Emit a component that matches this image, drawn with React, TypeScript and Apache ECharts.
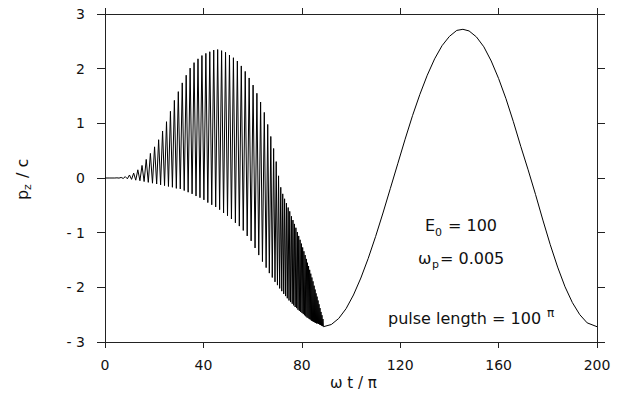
import React, { useEffect, useRef } from "react";
import * as echarts from "echarts";

// x tick labels (ωt/π) and y tick labels (p_z/c)
const xTicks = [0, 40, 80, 120, 160, 200];
const yTicks = [-3, -2, -1, 0, 1, 2, 3];

// flat start before the oscillations
const startT = [0, 2];
const startV = [0, 0];

// fast oscillation: spike tops
const peakT = [4.85, 6.55, 8.25, 9.95, 11.65, 13.35, 15.05, 16.75, 18.45, 20.15, 21.8, 23.4, 25.0, 26.6, 28.2, 29.8, 31.4, 33.0, 34.6, 36.2, 37.8, 39.4, 41.0, 42.6, 44.2, 45.8, 47.4, 49.0, 50.6, 52.2, 53.8, 55.4, 57.0, 58.6, 60.2, 61.75, 63.25, 64.75, 66.15, 67.4, 68.55, 69.6, 70.55, 71.45, 72.25, 73.0, 73.75, 74.45, 75.1, 75.8, 76.4, 77.0, 77.6, 78.2, 78.75, 79.3, 79.85, 80.35, 80.85, 81.35, 81.85, 82.3, 82.75, 83.2, 83.65, 84.1, 84.55, 85.0, 85.4, 85.8, 86.2, 86.6, 87.0, 87.4, 87.8, 88.2, 88.6];
const peakV = [0.003, 0.01, 0.025, 0.055, 0.09, 0.15, 0.23, 0.34, 0.45, 0.57, 0.7, 0.86, 1.03, 1.22, 1.42, 1.58, 1.74, 1.88, 2.01, 2.11, 2.18, 2.24, 2.28, 2.31, 2.34, 2.35, 2.33, 2.3, 2.25, 2.2, 2.14, 2.05, 1.95, 1.83, 1.7, 1.55, 1.39, 1.2, 0.98, 0.76, 0.54, 0.3, 0.04, -0.17, -0.29, -0.38, -0.46, -0.54, -0.61, -0.7, -0.77, -0.84, -0.91, -0.99, -1.06, -1.13, -1.2, -1.27, -1.34, -1.41, -1.48, -1.55, -1.61, -1.68, -1.75, -1.82, -1.89, -1.97, -2.04, -2.11, -2.17, -2.24, -2.31, -2.38, -2.45, -2.51, -2.58];

// fast oscillation: spike bottoms
const troughT = [4.0, 5.7, 7.4, 9.1, 10.8, 12.5, 14.2, 15.9, 17.6, 19.3, 21.0, 22.6, 24.2, 25.8, 27.4, 29.0, 30.6, 32.2, 33.8, 35.4, 37.0, 38.6, 40.2, 41.8, 43.4, 45.0, 46.6, 48.2, 49.8, 51.4, 53.0, 54.6, 56.2, 57.8, 59.4, 61.0, 62.5, 64.0, 65.5, 66.8, 68.0, 69.1, 70.1, 71.0, 71.85, 72.65, 73.4, 74.1, 74.8, 75.45, 76.1, 76.7, 77.3, 77.9, 78.45, 79.0, 79.55, 80.1, 80.6, 81.1, 81.6, 82.1, 82.55, 83.0, 83.45, 83.9, 84.35, 84.8, 85.2, 85.6, 86.0, 86.4, 86.8, 87.2, 87.6, 88.0, 88.4, 88.8];
const troughV = [0, -0.002, -0.008, -0.015, -0.025, -0.04, -0.05, -0.065, -0.08, -0.095, -0.11, -0.125, -0.14, -0.155, -0.17, -0.19, -0.2, -0.23, -0.26, -0.29, -0.33, -0.36, -0.4, -0.45, -0.49, -0.53, -0.58, -0.64, -0.69, -0.75, -0.82, -0.88, -0.96, -1.06, -1.15, -1.28, -1.41, -1.53, -1.64, -1.74, -1.82, -1.9, -1.96, -2.02, -2.07, -2.12, -2.16, -2.2, -2.24, -2.27, -2.3, -2.33, -2.36, -2.38, -2.41, -2.43, -2.45, -2.47, -2.49, -2.51, -2.53, -2.55, -2.56, -2.58, -2.59, -2.61, -2.62, -2.63, -2.64, -2.65, -2.66, -2.66, -2.67, -2.68, -2.69, -2.7, -2.71, -2.72];

// slow part after the pulse
const slowT = [89, 92, 95, 98, 101, 104, 107, 110, 113, 116, 119, 122, 125, 128, 131, 134, 137, 140, 143, 145.5, 148, 151, 154, 157, 160, 163, 166, 169, 172, 175, 178, 181, 184, 187, 190, 193, 196, 200];
const slowV = [-2.72, -2.68, -2.57, -2.39, -2.14, -1.83, -1.47, -1.07, -0.64, -0.19, 0.26, 0.71, 1.14, 1.53, 1.88, 2.18, 2.42, 2.59, 2.7, 2.72, 2.69, 2.58, 2.4, 2.14, 1.82, 1.45, 1.03, 0.58, 0.15, -0.3, -0.77, -1.22, -1.63, -1.99, -2.28, -2.5, -2.65, -2.72];

const FONT = "DejaVu Sans";

export default function App() {
  const ref = useRef<HTMLDivElement>(null);
  useEffect(() => {
    if (!ref.current) return;
    const chart = echarts.init(ref.current, undefined, { renderer: "svg" });
    const pts: number[][] = [];
    startT.forEach((t, i) => pts.push([t, startV[i]]));
    const osc: number[][] = [];
    peakT.forEach((t, i) => osc.push([t, peakV[i]]));
    troughT.forEach((t, i) => osc.push([t, troughV[i]]));
    osc.sort((a, b) => a[0] - b[0]);
    osc.forEach((p) => pts.push(p));
    slowT.forEach((t, i) => pts.push([t, slowV[i]]));

    const axisLine = { show: true, onZero: false, lineStyle: { color: "#222", width: 1 } };
    const label = { fontFamily: FONT, fontSize: 14, color: "#111" };
    const txt = (text: string, x: number, y: number, size: number, extra: any = {}) => ({
      type: "text",
      x,
      y,
      style: { text, fontFamily: FONT, fontSize: size, fill: "#111", textVerticalAlign: "middle", ...extra },
    });

    chart.setOption({
      animation: false,
      backgroundColor: "#fff",
      grid: { left: 105, right: 21, top: 14, bottom: 54 },
      xAxis: [
        {
          type: "value", min: xTicks[0], max: xTicks[xTicks.length - 1], interval: 40, position: "bottom",
          axisLine, splitLine: { show: false },
          axisTick: { show: true, inside: false, length: 6, lineStyle: { color: "#222" } },
          axisLabel: { ...label, margin: 16 },
        },
        {
          type: "value", min: xTicks[0], max: xTicks[xTicks.length - 1], interval: 40, position: "top",
          axisLine, splitLine: { show: false },
          axisTick: { show: true, inside: false, length: 6, lineStyle: { color: "#222" } },
          axisLabel: { show: false },
        },
      ],
      yAxis: [
        {
          type: "value", min: yTicks[0], max: yTicks[yTicks.length - 1], interval: 1, position: "left",
          axisLine, splitLine: { show: false },
          axisTick: { show: true, inside: false, length: 8, lineStyle: { color: "#222" } },
          axisLabel: { ...label, margin: 20, formatter: (v: number) => (v < 0 ? "- " + Math.abs(v) : String(v)) },
        },
        {
          type: "value", min: yTicks[0], max: yTicks[yTicks.length - 1], interval: 1, position: "right",
          axisLine, splitLine: { show: false },
          axisTick: { show: true, inside: false, length: 8, lineStyle: { color: "#222" } },
          axisLabel: { show: false },
        },
      ],
      series: [
        {
          type: "line", data: pts, showSymbol: false, symbol: "none",
          lineStyle: { color: "#000", width: 1 }, xAxisIndex: 0, yAxisIndex: 0,
        },
      ],
      graphic: [
        {
          type: "group", x: 22, y: 178, rotation: Math.PI / 2,
          children: [
            txt("p", -22, 0, 16),
            txt("z", -12, 5, 11),
            txt("/ c", 0, 0, 16),
          ],
        },
        txt("ω t / π", 330, 383, 15),
        txt("E", 425, 225, 16),
        txt("0", 435, 232, 11),
        txt("= 100", 448, 225, 16),
        txt("ω", 418, 258, 16),
        txt("p", 432, 264, 11),
        txt("= 0.005", 440, 258, 16),
        txt("pulse length = 100", 388, 318, 16),
        txt("π", 547, 313, 12),
      ],
    });
    return () => chart.dispose();
  }, []);
  return <div ref={ref} style={{ position: "fixed", left: 0, top: 0, width: 618, height: 396 }} />;
}
